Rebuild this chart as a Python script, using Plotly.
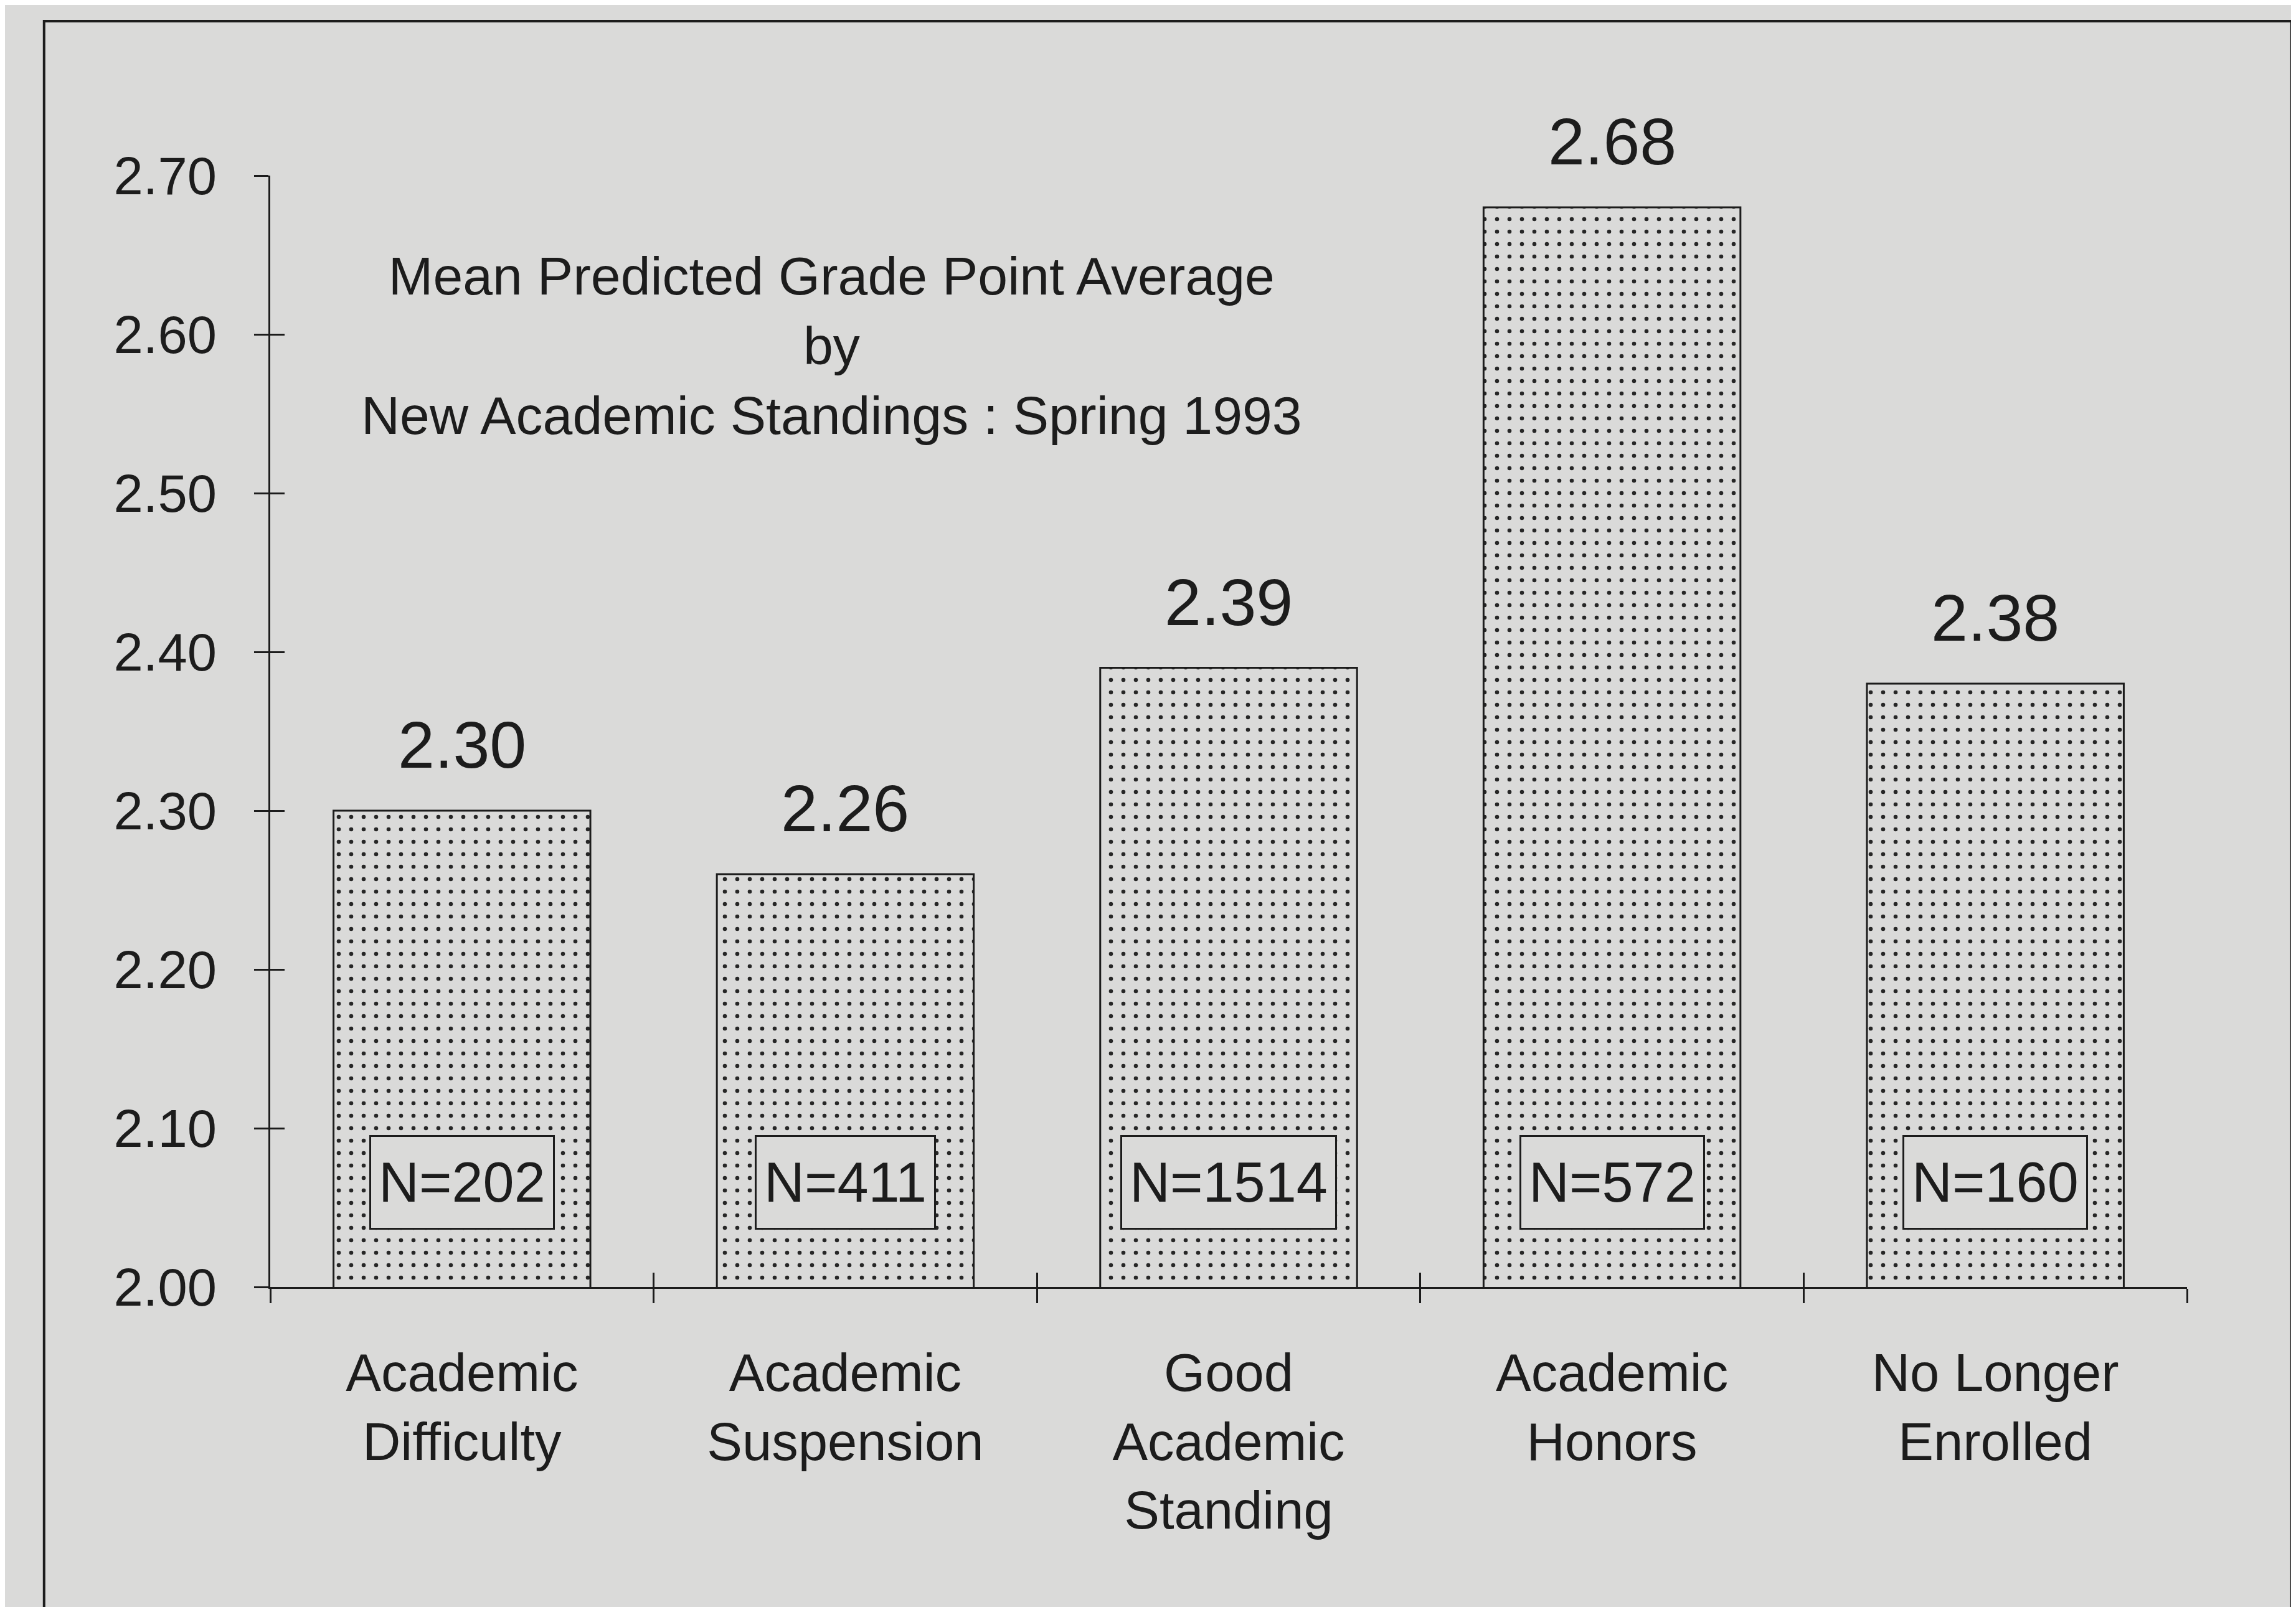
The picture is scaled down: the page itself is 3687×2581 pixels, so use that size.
import plotly.graph_objects as go

# ---------------- data ----------------
categories = [
    "Academic<br>Difficulty",
    "Academic<br>Suspension",
    "Good<br>Academic<br>Standing",
    "Academic<br>Honors",
    "No Longer<br>Enrolled",
]
mean_gpa = [2.30, 2.26, 2.39, 2.68, 2.38]
n_counts = [202, 411, 1514, 572, 160]
y_ticks = [2.00, 2.10, 2.20, 2.30, 2.40, 2.50, 2.60, 2.70]
y_tick_labels = ["2.00", "2.10", "2.20", "2.30", "2.40", "2.50", "2.60", "2.70"]
title_lines = [
    "Mean Predicted Grade Point Average",
    "by",
    "New Academic Standings : Spring 1993",
]

# ---------------- style ----------------
BG = "#dadad9"
INK = "#1c1c1c"
FONT = "Arial, 'Liberation Sans', sans-serif"
Y_RANGE = [y_ticks[0], y_ticks[-1]]
TICKLEN = 23

n_cat = len(categories)
boundaries = [i - 0.5 for i in range(n_cat + 1)]

fig = go.Figure()

fig.add_trace(go.Bar(
    x=categories,
    y=mean_gpa,
    marker=dict(
        color=BG,
        line=dict(color=INK, width=3),
        pattern=dict(shape=".", fgcolor="#262626", bgcolor=BG,
                     size=20, solidity=0.085, fillmode="replace"),
    ),
    hoverinfo="skip",
    showlegend=False,
))

# invisible companion trace so the overlay axes (inside tick halves) render
fig.add_trace(go.Scatter(
    x=list(range(n_cat)), y=mean_gpa, xaxis="x2", yaxis="y2",
    mode="markers", marker=dict(opacity=0), hoverinfo="skip", showlegend=False,
))

annotations = []
# value labels above bars
for cat, v in zip(categories, mean_gpa):
    annotations.append(dict(
        x=cat, y=v, xref="x", yref="y", text=f"{v:.2f}",
        showarrow=False, yanchor="bottom", yshift=45,
        font=dict(size=106, color=INK, family=FONT),
    ))
# N boxes inside bars
n_label_y = Y_RANGE[0] + 0.066
for cat, n in zip(categories, n_counts):
    annotations.append(dict(
        x=cat, y=n_label_y, xref="x", yref="y", text=f"N={n}",
        showarrow=False, yanchor="middle", valign="middle", height=122,
        font=dict(size=90, color=INK, family=FONT),
        bgcolor=BG, bordercolor=INK, borderwidth=3, borderpad=12,
    ))
# chart title inside the plot
annotations.append(dict(
    x=0.293, y=0.847, xref="paper", yref="paper",
    text="<br>".join(title_lines), showarrow=False,
    xanchor="center", yanchor="middle", align="center",
    font=dict(size=86, color=INK, family=FONT),
))

fig.update_layout(
    width=3687, height=2581,
    margin=dict(l=426, r=183, t=274, b=522),
    paper_bgcolor=BG, plot_bgcolor=BG,
    font=dict(family=FONT, color=INK),
    bargap=0.33,
    showlegend=False,
    annotations=annotations,
    xaxis=dict(
        type="category", range=[-0.5, n_cat - 0.5],
        showline=True, linecolor=INK, linewidth=3,
        ticks="outside", tickson="boundaries", ticklen=TICKLEN,
        tickwidth=3, tickcolor=INK,
        showgrid=False, zeroline=False,
        tickfont=dict(size=85, color=INK, family=FONT),
        ticklabelstandoff=62,
    ),
    xaxis2=dict(
        overlaying="x", anchor="y2", range=[-0.5, n_cat - 0.5],
        tickmode="array", tickvals=boundaries,
        ticks="inside", ticklen=TICKLEN, tickwidth=3, tickcolor=INK,
        showticklabels=False, showline=False, showgrid=False, zeroline=False,
        side="bottom",
    ),
    yaxis=dict(
        range=Y_RANGE, tickmode="array", tickvals=y_ticks, ticktext=y_tick_labels,
        showline=True, linecolor=INK, linewidth=3,
        ticks="outside", ticklen=TICKLEN, tickwidth=3, tickcolor=INK,
        showgrid=False, zeroline=False,
        tickfont=dict(size=85, color=INK, family=FONT),
        ticklabelstandoff=43,
    ),
    yaxis2=dict(
        overlaying="y", anchor="x2", side="left", range=Y_RANGE,
        tickmode="array", tickvals=y_ticks,
        ticks="inside", ticklen=TICKLEN, tickwidth=3, tickcolor=INK,
        showticklabels=False, showline=False, showgrid=False, zeroline=False,
    ),
    shapes=[dict(
        type="rect", xref="paper", yref="paper",
        x0=-0.118, x1=1.0545, y0=-0.4, y1=1.139,
        line=dict(color=INK, width=4), fillcolor="rgba(0,0,0,0)", layer="below",
    )],
)

fig.write_html("out.html")
